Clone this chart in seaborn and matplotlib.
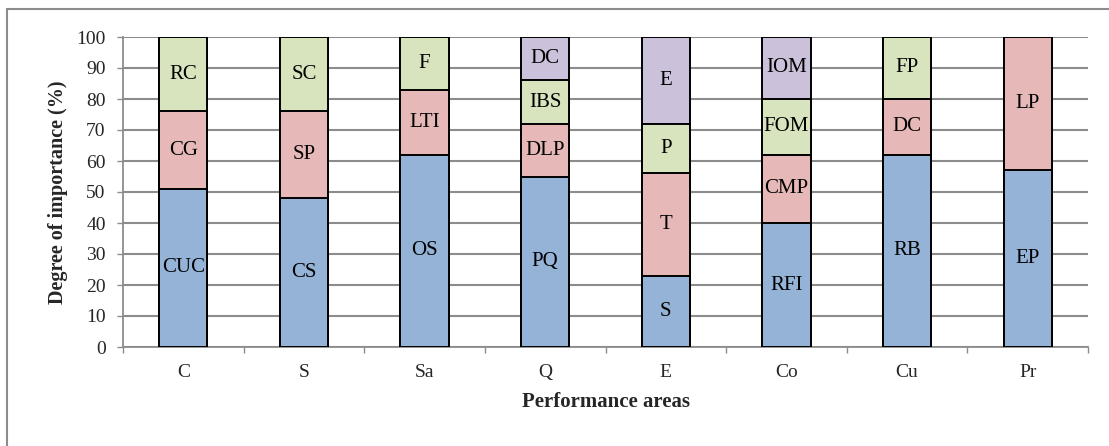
import numpy as np
import pandas as pd
import matplotlib
matplotlib.use("Agg")
import matplotlib.pyplot as plt
import seaborn as sns
from matplotlib.patches import Rectangle

# Performance areas and their components (degree of importance, %)
areas = ["C", "S", "Sa", "Q", "E", "Co", "Cu", "Pr"]

seg1_labels = ["CUC", "CS", "OS", "PQ", "S", "RFI", "RB", "EP"]
seg1_values = [51, 48, 62, 55, 23, 40, 62, 57]

seg2_labels = ["CG", "SP", "LTI", "DLP", "T", "CMP", "DC", "LP"]
seg2_values = [25, 28, 21, 17, 33, 22, 18, 43]

seg3_labels = ["RC", "SC", "F", "IBS", "P", "FOM", "FP", ""]
seg3_values = [24, 24, 17, 14, 16, 18, 20, 0]

seg4_labels = ["", "", "", "DC", "E", "IOM", "", ""]
seg4_values = [0, 0, 0, 14, 28, 20, 0, 0]

y_ticks = list(range(0, 101, 10))

colors = ["#95B3D7", "#E6B9B8", "#D7E4BD", "#CCC1DA"]

sns.set_theme(style="white")
plt.rcParams["font.family"] = ["Liberation Serif", "DejaVu Serif"]

fig = plt.figure(figsize=(11.09, 4.46), dpi=100)
ax = fig.add_axes([123 / 1109, 1 - 347 / 446, (1088 - 123) / 1109, (347 - 37) / 446])

segments = [
    (seg1_labels, seg1_values),
    (seg2_labels, seg2_values),
    (seg3_labels, seg3_values),
    (seg4_labels, seg4_values),
]

# cumulative tops for each stacking level
vals = np.array([s[1] for s in segments], dtype=float)
tops = np.cumsum(vals, axis=0)
bottoms = tops - vals

# draw from the highest layer down so lower segments sit on top
for i in range(len(segments) - 1, -1, -1):
    df = pd.DataFrame({"area": areas, "top": tops[i]})
    sns.barplot(data=df, x="area", y="top", order=areas, color=colors[i],
                saturation=1, width=0.4, edgecolor="black", linewidth=1.4,
                ax=ax, zorder=3)

# segment labels centered in each piece
for i, (labels, values) in enumerate(segments):
    for j, (lab, v) in enumerate(zip(labels, values)):
        if lab and v > 0:
            ax.text(j, bottoms[i][j] + v / 2, lab, ha="center", va="center",
                    fontsize=15, color="black", zorder=5)

ax.set_ylim(0, 100)
ax.set_xlim(-0.5, len(areas) - 0.5)
ax.set_yticks(y_ticks)
ax.set_yticklabels([str(t) for t in y_ticks], fontsize=14)
ax.set_xticks(range(len(areas)))
ax.set_xticklabels(areas, fontsize=14)
ax.set_xticks(np.arange(-0.5, len(areas), 1.0), minor=True)

ax.yaxis.grid(True, color="#8C8C8C", linewidth=1.5, zorder=0)
ax.set_axisbelow(True)
ax.xaxis.grid(False)

for side in ["top", "right"]:
    ax.spines[side].set_visible(False)
for side in ["left", "bottom"]:
    ax.spines[side].set_color("#8C8C8C")
    ax.spines[side].set_linewidth(1.3)

ax.tick_params(axis="y", which="major", direction="out", length=4.5, width=1,
               color="#8C8C8C", left=True, pad=8)
ax.tick_params(axis="x", which="major", length=0, pad=12)
ax.tick_params(axis="x", which="minor", direction="out", length=4.5, width=1,
               color="#8C8C8C", bottom=True)

ax.set_xlabel("Performance areas", fontsize=15, fontweight="bold", labelpad=8)
ax.set_ylabel("Degree of importance (%)", fontsize=14.5, fontweight="bold", labelpad=6)

# chart frame
fig.patches.append(Rectangle((7 / 1109, -0.1), 1.2, 1 - 9 / 446 + 0.1,
                             transform=fig.transFigure, fill=False,
                             edgecolor="#8C8C8C", linewidth=1.5))

fig.savefig("out.png", dpi=100, facecolor="white")
